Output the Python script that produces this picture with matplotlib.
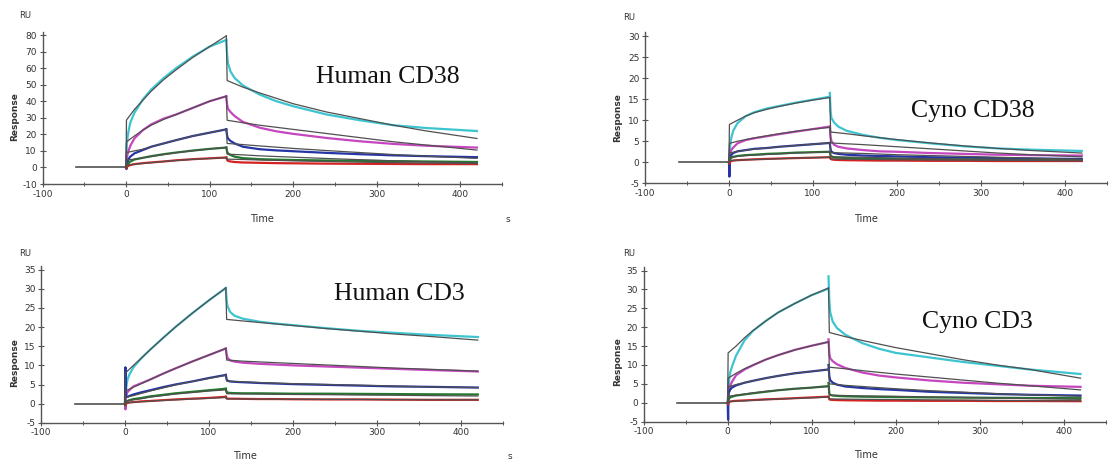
import matplotlib
matplotlib.use("Agg")
import matplotlib.pyplot as plt
from matplotlib.ticker import MultipleLocator

plt.rcParams["axes.unicode_minus"] = False

# ---------------- data ----------------
baseline_t = [-60, 0]
baseline_v = [0, 0]

assoc_t = [0, 0.5, 1, 2, 3, 5, 10, 20, 30, 45, 60, 80, 100, 120]
dissoc_t = [120, 121, 122, 125, 130, 140, 160, 180, 200, 240, 280, 320, 360, 420]
fit_assoc_t = [0, 0.5, 10, 20, 30, 45, 60, 80, 100, 120]
fit_dissoc_t = [120, 121, 140, 160, 200, 240, 280, 320, 360, 420]

series_names = ["cyan", "magenta", "blue", "green", "red"]

# Human CD38
hcd38_assoc = {
    "cyan": [0, 8, 14, 19, 22, 27, 33, 41, 47, 54, 60, 67, 73, 77],
    "magenta": [0, 3, 6, 8.5, 10, 13, 17.5, 22.5, 26, 29.5, 32, 36, 40, 43],
    "blue": [0, -1, 2, 3.5, 5, 6.5, 8.5, 10.5, 12.5, 14.5, 16.5, 19, 21, 23],
    "green": [0, 0.5, 1, 2, 2.5, 3.5, 4.8, 5.8, 6.8, 8, 9, 10.2, 11.2, 12],
    "red": [0, -0.5, 0.3, 0.7, 1, 1.4, 2, 2.6, 3, 3.6, 4.3, 5, 5.5, 6],
}
hcd38_dissoc = {
    "cyan": [77, 68, 63, 58, 54, 49.5, 44, 40, 37, 32, 28.5, 25.5, 23.8, 22],
    "magenta": [43, 38, 35.5, 33.5, 31, 27.5, 24, 21.8, 20.3, 17.8, 15.8, 14.2, 13.1, 12],
    "blue": [23, 19, 17.5, 16, 14.5, 12.5, 11, 10.3, 9.8, 8.8, 8, 7.3, 6.8, 6.2],
    "green": [12, 9.5, 8.5, 7.5, 6.5, 5.6, 5, 4.7, 4.5, 4.2, 4, 3.8, 3.6, 3.3],
    "red": [6, 4.5, 4, 3.6, 3.3, 3, 2.8, 2.6, 2.5, 2.3, 2.2, 2.1, 2, 2],
}
hcd38_fit_assoc = {
    "cyan": [0, 28.6, 35, 40.5, 46, 53, 59, 66.5, 73, 79.5],
    "magenta": [0, 15.5, 19, 22.5, 25.5, 29, 32, 36, 40, 43],
    "blue": [0, 9, 10, 11, 12.5, 14.5, 16.5, 19, 21, 23],
    "green": [0, 4.5, 5, 5.8, 6.6, 7.8, 8.9, 10.1, 11.2, 12.1],
    "red": [0, 1.5, 1.9, 2.4, 2.9, 3.6, 4.2, 4.9, 5.4, 5.9],
}
hcd38_fit_dissoc = {
    "cyan": [79.5, 52.5, 48.5, 45, 38.5, 33.5, 29.5, 25.5, 22, 17.5],
    "magenta": [43, 28.5, 27, 25.5, 23, 20.5, 18, 15.5, 13.5, 10.5],
    "blue": [23, 14.5, 13.8, 13, 11.5, 10.2, 9, 7.8, 6.8, 5.5],
    "green": [12.1, 8, 7.6, 7, 6.2, 5.4, 4.7, 4, 3.4, 2.7],
    "red": [5.9, 5, 4.8, 4.5, 4, 3.6, 3.2, 2.9, 2.7, 2.4],
}

# Cyno CD38
ccd38_assoc = {
    "cyan": [0, 2, 3, 5, 6, 7.5, 9.3, 11, 11.9, 12.8, 13.4, 14.2, 14.9, 15.6],
    "magenta": [0, 1, 1.8, 2.5, 3, 3.5, 4.5, 5.3, 5.7, 6.2, 6.7, 7.3, 7.9, 8.5],
    "blue": [0, -3.4, 0.5, 1.5, 1.8, 2.2, 2.6, 2.9, 3.2, 3.4, 3.7, 4, 4.3, 4.6],
    "green": [0, 0.3, 0.6, 0.9, 1.1, 1.3, 1.5, 1.7, 1.8, 2.0, 2.1, 2.3, 2.4, 2.5],
    "red": [0, -0.3, 0.1, 0.2, 0.3, 0.4, 0.5, 0.6, 0.7, 0.8, 0.9, 1.0, 1.1, 1.2],
}
ccd38_dissoc = {
    "cyan": [16.5, 12, 10.5, 9.5, 8.5, 7.5, 6.5, 5.8, 5.3, 4.5, 3.8, 3.3, 3, 2.7],
    "magenta": [8.5, 6, 5, 4.2, 3.7, 3.3, 2.9, 2.6, 2.5, 2.2, 2, 1.8, 1.7, 1.6],
    "blue": [4.6, 3, 2.5, 2.2, 2, 1.8, 1.6, 1.5, 1.4, 1.2, 1.1, 1, 0.9, 0.8],
    "green": [2.5, 1.6, 1.4, 1.2, 1.1, 1, 0.9, 0.85, 0.8, 0.7, 0.65, 0.6, 0.55, 0.5],
    "red": [1.2, 0.8, 0.7, 0.6, 0.55, 0.5, 0.45, 0.4, 0.4, 0.35, 0.35, 0.3, 0.3, 0.3],
}
ccd38_fit_assoc = {
    "cyan": [0, 9, 10, 11, 11.8, 12.6, 13.3, 14.1, 14.8, 15.4],
    "magenta": [0, 4.5, 5, 5.4, 5.8, 6.3, 6.8, 7.4, 7.9, 8.3],
    "blue": [0, 2.2, 2.6, 2.9, 3.1, 3.4, 3.7, 4.0, 4.3, 4.6],
    "green": [0, 1.2, 1.4, 1.6, 1.7, 1.85, 2.0, 2.2, 2.35, 2.5],
    "red": [0, 0.4, 0.5, 0.6, 0.65, 0.75, 0.85, 1.0, 1.1, 1.2],
}
ccd38_fit_dissoc = {
    "cyan": [15.4, 7.2, 6.8, 6.3, 5.4, 4.6, 3.9, 3.3, 2.8, 2.2],
    "magenta": [8.3, 4.6, 4.4, 4.2, 3.7, 3.2, 2.7, 2.2, 1.8, 1.3],
    "blue": [4.6, 2.3, 2.2, 2.1, 1.8, 1.6, 1.4, 1.2, 1.0, 0.7],
    "green": [2.5, 1.3, 1.25, 1.2, 1.0, 0.9, 0.8, 0.7, 0.6, 0.5],
    "red": [1.2, 0.8, 0.75, 0.7, 0.6, 0.55, 0.5, 0.45, 0.4, 0.35],
}

# Human CD3
hcd3_assoc = {
    "cyan": [0, 2, 3, 5, 6.3, 7.5, 9.5, 12, 14.1, 17.1, 20, 23.6, 27, 30.2],
    "magenta": [0, -1.5, 1.5, 2.5, 3, 3.5, 4.5, 5.4, 6.3, 7.8, 9.2, 11, 12.7, 14.4],
    "blue": [0, 9.5, 2, 1.8, 1.8, 2, 2.4, 3, 3.5, 4.3, 5, 5.8, 6.7, 7.5],
    "green": [0, -0.5, 0.3, 0.6, 0.7, 0.9, 1.2, 1.5, 1.9, 2.3, 2.7, 3.1, 3.5, 3.9],
    "red": [0, -0.3, 0, 0.1, 0.2, 0.3, 0.4, 0.6, 0.7, 0.9, 1.1, 1.3, 1.5, 1.8],
}
hcd3_dissoc = {
    "cyan": [30.2, 27, 25.5, 24, 23, 22.2, 21.4, 20.9, 20.5, 19.7, 19, 18.5, 18, 17.4],
    "magenta": [14.4, 13, 12, 11.3, 11, 10.7, 10.4, 10.2, 10, 9.7, 9.4, 9.1, 8.8, 8.4],
    "blue": [7.5, 6.3, 6, 5.8, 5.7, 5.6, 5.4, 5.25, 5.1, 4.9, 4.7, 4.5, 4.4, 4.2],
    "green": [3.9, 3, 2.9, 2.8, 2.75, 2.7, 2.7, 2.65, 2.6, 2.6, 2.55, 2.5, 2.45, 2.4],
    "red": [1.8, 1.4, 1.3, 1.3, 1.3, 1.25, 1.2, 1.2, 1.15, 1.1, 1.1, 1.05, 1.0, 1.0],
}
hcd3_fit_assoc = {
    "cyan": [0, 8, 10, 12, 14.1, 17.1, 20, 23.6, 27, 30.2],
    "magenta": [0, 3.3, 4.3, 5.3, 6.3, 7.8, 9.2, 11, 12.7, 14.4],
    "blue": [0, 1.6, 2.1, 2.7, 3.3, 4.1, 4.9, 5.8, 6.6, 7.4],
    "green": [0, 0.6, 1.0, 1.3, 1.7, 2.1, 2.5, 2.9, 3.3, 3.6],
    "red": [0, 0.2, 0.35, 0.5, 0.65, 0.85, 1.0, 1.2, 1.4, 1.6],
}
hcd3_fit_dissoc = {
    "cyan": [30.2, 22, 21.6, 21.2, 20.4, 19.6, 18.9, 18.2, 17.6, 16.6],
    "magenta": [14.4, 11.4, 11.1, 10.9, 10.5, 10.1, 9.7, 9.3, 9.0, 8.5],
    "blue": [7.4, 5.9, 5.7, 5.5, 5.2, 5.0, 4.8, 4.6, 4.4, 4.2],
    "green": [3.6, 2.6, 2.55, 2.5, 2.4, 2.35, 2.25, 2.2, 2.1, 2.0],
    "red": [1.6, 1.25, 1.22, 1.2, 1.15, 1.12, 1.1, 1.05, 1.02, 1.0],
}

# Cyno CD3
ccd3_assoc = {
    "cyan": [0, 2, 4, 6.5, 8, 9.5, 12.5, 16.5, 19, 21.6, 23.9, 26.3, 28.5, 30.2],
    "magenta": [0, 1.5, 2.5, 3.5, 4.5, 5.5, 7.3, 8.8, 9.9, 11.4, 12.6, 14, 15.1, 16.1],
    "blue": [0, -4.5, 2.5, 3, 3.5, 4, 4.6, 5.3, 5.8, 6.5, 7.1, 7.8, 8.3, 8.8],
    "green": [0, 0.5, 0.8, 1.2, 1.4, 1.6, 1.9, 2.2, 2.5, 2.9, 3.3, 3.7, 4.0, 4.4],
    "red": [0, -0.5, 0, 0.2, 0.3, 0.4, 0.5, 0.6, 0.7, 0.9, 1.0, 1.2, 1.4, 1.6],
}
ccd3_dissoc = {
    "cyan": [33.5, 27, 24, 21.5, 19.8, 18, 15.8, 14.3, 13.2, 12, 10.8, 9.8, 8.8, 7.6],
    "magenta": [16.8, 13, 11.8, 11, 10.2, 9.2, 8, 7.2, 6.7, 5.9, 5.3, 4.9, 4.5, 4.2],
    "blue": [10, 7, 6, 5.3, 4.8, 4.3, 3.9, 3.6, 3.4, 2.9, 2.6, 2.3, 2.1, 1.9],
    "green": [5.2, 2.4, 2.1, 1.9, 1.8, 1.7, 1.6, 1.55, 1.5, 1.4, 1.35, 1.3, 1.25, 1.2],
    "red": [1.6, 0.9, 0.8, 0.75, 0.7, 0.65, 0.6, 0.55, 0.55, 0.5, 0.5, 0.45, 0.45, 0.4],
}
ccd3_fit_assoc = {
    "cyan": [0, 13.2, 15, 17.2, 19.1, 21.6, 23.9, 26.3, 28.5, 30.4],
    "magenta": [0, 6.5, 7.8, 9, 10, 11.4, 12.6, 14, 15.1, 16.1],
    "blue": [0, 4.2, 4.8, 5.3, 5.8, 6.5, 7.1, 7.8, 8.3, 8.8],
    "green": [0, 1.7, 2.0, 2.3, 2.6, 3.0, 3.3, 3.7, 4.0, 4.3],
    "red": [0, 0.3, 0.4, 0.5, 0.65, 0.8, 0.95, 1.15, 1.3, 1.5],
}
ccd3_fit_dissoc = {
    "cyan": [30.4, 18.6, 17.5, 16.5, 14.6, 13, 11.4, 10, 8.8, 6.5],
    "magenta": [16.1, 9.4, 9.0, 8.5, 7.6, 6.8, 6.0, 5.2, 4.5, 3.4],
    "blue": [8.8, 5, 4.6, 4.3, 3.7, 3.2, 2.8, 2.4, 2.1, 1.7],
    "green": [4.3, 2.0, 1.9, 1.8, 1.7, 1.55, 1.4, 1.25, 1.1, 0.9],
    "red": [1.5, 1.0, 0.95, 0.9, 0.85, 0.75, 0.7, 0.6, 0.55, 0.5],
}

titles = ["Human CD38", "Cyno CD38", "Human CD3", "Cyno CD3"]
x_ticks = [-100, 0, 100, 200, 300, 400]
y_ticks_list = [
    [-10, 0, 10, 20, 30, 40, 50, 60, 70, 80],
    [-5, 0, 5, 10, 15, 20, 25, 30],
    [-5, 0, 5, 10, 15, 20, 25, 30, 35],
    [-5, 0, 5, 10, 15, 20, 25, 30, 35],
]

# ---------------- style ----------------
colors = {
    "cyan": "#3cc4d0",
    "magenta": "#c546bf",
    "blue": "#2535a6",
    "green": "#22782c",
    "red": "#d42222",
}
fit_color = "#505050"
axis_color = "#555555"
text_color = "#333333"

W, H = 1112, 461
fig = plt.figure(figsize=(W / 100, H / 100), dpi=100)


def px_axes(left, right, top, bottom):
    return fig.add_axes([left / W, 1 - bottom / H, (right - left) / W, (bottom - top) / H])


panels = [
    dict(box=(42.5, 502, 31.7, 184), ylim=(-10, 82),
         data=(hcd38_assoc, hcd38_dissoc, hcd38_fit_assoc, hcd38_fit_dissoc),
         title_xy=(388, 77), ru_xy=(25, 16), resp_xy=(15, 117), time_xy=(262, 219), s_xy=(508, 219)),
    dict(box=(645, 1107, 32, 183.3), ylim=(-5, 31),
         data=(ccd38_assoc, ccd38_dissoc, ccd38_fit_assoc, ccd38_fit_dissoc),
         title_xy=(973, 111), ru_xy=(629, 17), resp_xy=(618, 118), time_xy=(866, 219), s_xy=None),
    dict(box=(41, 503, 265.8, 422.8), ylim=(-5, 36),
         data=(hcd3_assoc, hcd3_dissoc, hcd3_fit_assoc, hcd3_fit_dissoc),
         title_xy=(399, 294), ru_xy=(25, 253), resp_xy=(15, 363), time_xy=(245, 456), s_xy=(510, 456)),
    dict(box=(643.7, 1105.7, 266.8, 421.6), ylim=(-5, 36),
         data=(ccd3_assoc, ccd3_dissoc, ccd3_fit_assoc, ccd3_fit_dissoc),
         title_xy=(977, 322), ru_xy=(629, 253), resp_xy=(618, 362), time_xy=(866, 455), s_xy=None),
]

for i, p in enumerate(panels):
    l, r, t, b = p["box"]
    ax = px_axes(l, r, t, b)
    ax.set_xlim(-100, 450)
    ax.set_ylim(*p["ylim"])
    for s in ["top", "right"]:
        ax.spines[s].set_visible(False)
    for s in ["left", "bottom"]:
        ax.spines[s].set_color(axis_color)
        ax.spines[s].set_linewidth(1.0)
    ax.set_xticks(x_ticks)
    ax.set_yticks(y_ticks_list[i])
    ax.xaxis.set_minor_locator(MultipleLocator(50))
    ax.tick_params(axis="both", which="major", direction="inout", length=4, width=0.8,
                   colors=axis_color, labelsize=6.5, labelcolor=text_color, pad=2)
    ax.tick_params(axis="x", which="minor", direction="inout", length=3, width=0.7, colors=axis_color)
    ax.patch.set_alpha(0)

    assoc, dissoc, fassoc, fdissoc = p["data"]
    ax.plot(baseline_t, baseline_v, color=fit_color, lw=1.2, zorder=3)
    for name in series_names:
        c = colors[name]
        ax.plot(assoc_t, assoc[name], color=c, lw=1.6, zorder=2)
        ax.plot(dissoc_t, dissoc[name], color=c, lw=1.6, zorder=2)
    for name in series_names:
        ax.plot(fit_assoc_t, fassoc[name], color=fit_color, lw=0.9, zorder=3)
        ax.plot(fit_dissoc_t, fdissoc[name], color=fit_color, lw=0.9, zorder=3)

    tx, ty = p["title_xy"]
    fig.text(tx / W, 1 - ty / H, titles[i], family="Liberation Serif", fontsize=18.5,
             color="#111111", ha="center", va="center")
    rx, ry = p["ru_xy"]
    fig.text(rx / W, 1 - ry / H, "RU", fontsize=6, color=text_color, ha="center", va="center")
    qx, qy = p["resp_xy"]
    fig.text(qx / W, 1 - qy / H, "Response", fontsize=6.5, fontweight="bold", color=text_color,
             rotation=90, ha="center", va="center")
    mx, my = p["time_xy"]
    fig.text(mx / W, 1 - my / H, "Time", fontsize=7, color=text_color, ha="center", va="center")
    if p["s_xy"] is not None:
        sx, sy = p["s_xy"]
        fig.text(sx / W, 1 - sy / H, "s", fontsize=6.5, color=text_color, ha="center", va="center")

fig.savefig("out.png", dpi=100)
